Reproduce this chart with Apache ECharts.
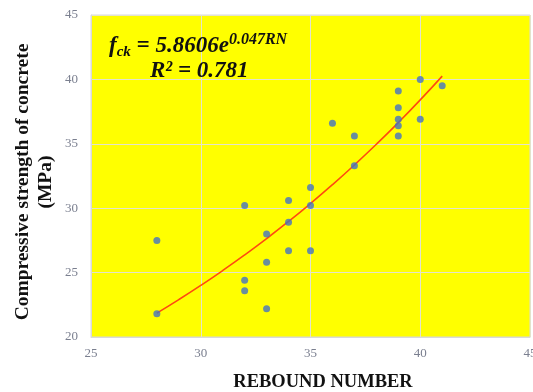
<!DOCTYPE html>
<html>
<head>
<meta charset="utf-8">
<script src="https://cdn.jsdelivr.net/npm/echarts@6/dist/echarts.min.js"></script>
<style>
  html, body { margin: 0; padding: 0; background: #fff; }
  #chart { width: 533px; height: 392px; }
</style>
</head>
<body>
<div id="chart"></div>
<script>
// Rebound number vs. measured compressive strength
const reboundNumber = [28, 28, 32, 32, 32, 33, 33, 33, 34, 34, 34, 35, 35, 35, 36, 37, 37, 39, 39, 39, 39, 39, 40, 40, 41];
const strengthMPa   = [21.8, 27.5, 30.2, 24.4, 23.6, 28.0, 25.8, 22.2, 30.6, 28.9, 26.7, 31.6, 30.2, 26.7, 36.6, 35.6, 33.3, 39.1, 37.8, 36.9, 36.4, 35.6, 40.0, 36.9, 39.5];

// Exponential fit stated on the chart: fck = a * e^(b * RN)
const fitA = 5.8606;
const fitB = 0.047;
const fitRN = [28, 29, 30, 31, 32, 33, 34, 35, 36, 37, 38, 39, 40, 41];

const xTicks = [25, 30, 35, 40, 45];
const yTicks = [20, 25, 30, 35, 40, 45];

const points = reboundNumber.map((x, i) => [x, strengthMPa[i]]);
const fitLine = fitRN.map(x => [x, fitA * Math.exp(fitB * x)]);

const chart = echarts.init(document.getElementById('chart'), null, { renderer: 'canvas' });
const serif = '"Liberation Serif", "DejaVu Serif", serif';
const eqStyle = { fontFamily: serif, fontStyle: 'italic', fontWeight: 'bold', fill: '#111' };

chart.setOption({
  animation: false,
  backgroundColor: '#ffffff',
  grid: {
    left: 91, right: 3, top: 15, bottom: 55,
    outerBoundsMode: 'none',
    containLabel: false,
    show: true,
    backgroundColor: '#ffff00',
    borderColor: '#d9d9d9',
    borderWidth: 1
  },
  xAxis: {
    type: 'value',
    min: xTicks[0], max: xTicks[xTicks.length - 1], interval: 5,
    axisLine: { show: true, lineStyle: { color: '#d9d9d9' } },
    axisTick: { show: false },
    axisLabel: { fontFamily: serif, fontSize: 13, color: '#7a7f8f', margin: 10 },
    splitLine: { show: true, lineStyle: { color: '#e3e3cc', width: 1 } }
  },
  yAxis: {
    type: 'value',
    min: yTicks[0], max: yTicks[yTicks.length - 1], interval: 5,
    axisLine: { show: true, lineStyle: { color: '#d9d9d9' } },
    axisTick: { show: false },
    axisLabel: { fontFamily: serif, fontSize: 13, color: '#7a7f8f', margin: 13 },
    splitLine: { show: true, lineStyle: { color: '#e3e3cc', width: 1 } }
  },
  series: [
    {
      type: 'scatter',
      data: points,
      symbol: 'circle',
      symbolSize: 7,
      itemStyle: { color: '#4472c4' },
      z: 3
    },
    {
      type: 'line',
      data: fitLine,
      smooth: true,
      showSymbol: false,
      lineStyle: { color: '#ff4a10', width: 1.6 },
      z: 2
    }
  ],
  graphic: [
    {
      type: 'text',
      z: 100,
      left: 109, top: 32,
      style: {
        text: '{f|f}{sub|ck}{m| = 5.8606e}{sup|0.047RN}',
        rich: {
          f:   Object.assign({ fontSize: 23 }, eqStyle),
          sub: Object.assign({ fontSize: 15, padding: [12, 0, 0, 0] }, eqStyle),
          m:   Object.assign({ fontSize: 23 }, eqStyle),
          sup: Object.assign({ fontSize: 16, padding: [0, 0, 12, 0] }, eqStyle)
        }
      }
    },
    {
      type: 'text',
      z: 100,
      left: 150, top: 60,
      style: Object.assign({ text: 'R² = 0.781', fontSize: 23 }, eqStyle)
    },
    {
      type: 'text',
      z: 100,
      x: 323, y: 382,
      style: {
        text: 'REBOUND NUMBER',
        fontFamily: serif, fontWeight: 'bold', fontSize: 18.5, fill: '#111',
        textAlign: 'center', textVerticalAlign: 'middle'
      }
    },
    {
      type: 'text',
      z: 100,
      x: 34, y: 182,
      rotation: Math.PI / 2,
      style: {
        text: 'Compressive strength of concrete\n(MPa)',
        fontFamily: serif, fontWeight: 'bold', fontSize: 19.5, lineHeight: 23, fill: '#111',
        textAlign: 'center', textVerticalAlign: 'middle'
      }
    }
  ]
});
</script>
</body>
</html>
